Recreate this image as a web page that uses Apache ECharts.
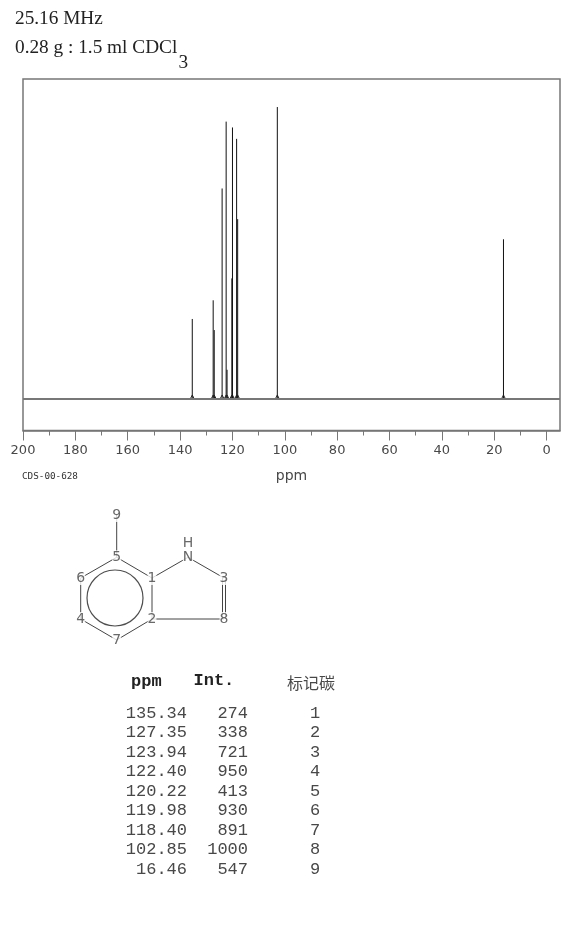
<!DOCTYPE html>
<html><head><meta charset="utf-8">
<style>html,body{margin:0;padding:0;background:#fff}#c{width:570px;height:928px}</style>
<script src="https://cdn.jsdelivr.net/npm/echarts@6/dist/echarts.min.js"></script>
</head><body><div id="c"></div>
<script>
// Table of assigned peaks
var tablePpm = ['135.34','127.35','123.94','122.40','120.22','119.98','118.40','102.85','16.46'];
var tableInt = [274,338,721,950,413,930,891,1000,547];
var tableCarbon = [1,2,3,4,5,6,7,8,9];
// Additional unlisted sticks seen in the spectrum
var extraPpm = [126.95,122.05,118.0];
var extraInt = [236,100,616];
// Axis ticks
var majorTicks = [0,20,40,60,80,100,120,140,160,180,200];
var minorTicks = [10,30,50,70,90,110,130,150,170,190];
// Molecule (atom label, x, y in structure units) and bonds
var atomLabels = ['9','5','6','4','7','2','1','N','H','3','8'];
var atomX = [56.7,56.7,20.7,20.7,56.7,92,92,128,128,164,164];
var atomY = [15,57.3,78,119,140,119,78,57.3,43,78,119];
var bondList = [['9','5',1],['5','6',1],['6','4',1],['4','7',1],['7','2',1],['2','1',1],['1','5',1],['1','N',1],['N','3',1],['3','8',2],['8','2',1]];
var ringCentre = [55,98];

var inkGrey = '#777777';
var textGrey = '#484848';
var chart = echarts.init(document.getElementById('c'), null, {renderer:'canvas'});

var peaks = tablePpm.map(function(p,i){return [parseFloat(p),tableInt[i]];})
  .concat(extraPpm.map(function(p,i){return [p,extraInt[i]];}));
var atoms = atomLabels.map(function(l,i){return {value:[atomX[i],atomY[i]],name:l};});
var bonds = bondList.map(function(b){
  var a=atomLabels.indexOf(b[0]), c=atomLabels.indexOf(b[1]);
  return [atomX[a],atomY[a],atomX[c],atomY[c],b[2]];
});

var serif = '19.3px "Liberation Serif"';
var mono = '17px "Liberation Mono"';
var gfx = [
 {type:'text',left:15,top:9,style:{text:'25.16 MHz',font:serif,fill:'#222'}},
 {type:'text',left:15,top:38,style:{text:'0.28 g : 1.5 ml CDCl',font:serif,fill:'#222'}},
 {type:'text',left:178.5,top:53,style:{text:'3',font:serif,fill:'#222'}},
 {type:'text',left:22,top:472,style:{text:'CDS-00-628',font:'9.3px "DejaVu Sans Mono"',fill:'#333'}},
 {type:'text',left:131,top:673,style:{text:'ppm',font:'bold 17px "Liberation Mono"',fill:'#222'}},
 {type:'text',left:193.5,top:672,style:{text:'Int.',font:'bold 17px "Liberation Mono"',fill:'#222'}},
 {type:'text',left:287,top:675,style:{text:'标记碳',font:'16px "Noto Sans CJK SC"',fill:'#484848'}}
];
var rowTop = 704.5, rowStep = 19.56;
tablePpm.forEach(function(p,i){
  var y = rowTop+i*rowStep;
  gfx.push({type:'text',x:187,y:y,style:{text:p,align:'right',font:mono,fill:'#484848'}});
  gfx.push({type:'text',x:248,y:y,style:{text:String(tableInt[i]),align:'right',font:mono,fill:'#484848'}});
  gfx.push({type:'text',x:315,y:y,style:{text:String(tableCarbon[i]),align:'center',font:mono,fill:'#484848'}});
});

chart.setOption({
  animation:false,
  backgroundColor:'#fff',
  grid:[
    {left:23,top:79,width:537,height:351.5,show:true,borderColor:inkGrey,borderWidth:1.5,backgroundColor:'#fff'},
    {left:60,top:500,width:190,height:160,show:false}
  ],
  xAxis:[
    {type:'value',gridIndex:0,inverse:true,min:-5.13,max:200,position:'bottom',splitLine:{show:false},
     name:'ppm',nameLocation:'middle',nameGap:39,nameTextStyle:{fontFamily:'DejaVu Sans',fontSize:14,color:textGrey},
     axisLine:{show:true,onZero:false,lineStyle:{color:inkGrey,width:1.5}},
     axisTick:{show:true,length:10,customValues:majorTicks,lineStyle:{color:inkGrey,width:1}},
     axisLabel:{show:true,customValues:majorTicks,margin:14,fontFamily:'DejaVu Sans',fontSize:13,color:textGrey,hideOverlap:false,showMinLabel:true,showMaxLabel:true}},
    {type:'value',gridIndex:0,inverse:true,min:-5.13,max:200,position:'bottom',splitLine:{show:false},
     axisLine:{show:false,onZero:false},
     axisTick:{show:true,length:5,customValues:minorTicks,lineStyle:{color:inkGrey,width:1}},
     axisLabel:{show:false}},
    {type:'value',gridIndex:1,min:0,max:190,show:false},
  ],
  yAxis:[
    {type:'value',gridIndex:0,min:-108,max:1096,show:false,splitLine:{show:false}},
    {type:'value',gridIndex:1,min:0,max:160,inverse:true,show:false,splitLine:{show:false}}
  ],
  series:[
    {type:'custom',xAxisIndex:0,yAxisIndex:0,coordinateSystem:'cartesian2d',data:peaks,encode:{x:0,y:1},silent:true,z:3,
     renderItem:function(params,api){
       var top=api.coord([api.value(0),api.value(1)]);
       var base=api.coord([api.value(0),0]);
       return {type:'group',children:[
         {type:'line',shape:{x1:top[0],y1:top[1],x2:base[0],y2:base[1]},style:{stroke:'#111',lineWidth:1}},
         {type:'polyline',shape:{points:[[base[0]-2,base[1]],[base[0]-1,base[1]-2],[base[0],base[1]-4],[base[0]+1,base[1]-2],[base[0]+2,base[1]]]},style:{stroke:'#222',fill:null,lineWidth:1}}
       ]};
     },
     markLine:{silent:true,symbol:'none',label:{show:false},lineStyle:{color:inkGrey,width:2,type:'solid'},data:[{yAxis:0}]}
    },
    {type:'custom',xAxisIndex:2,yAxisIndex:1,coordinateSystem:'cartesian2d',data:bonds,silent:true,z:2,
     encode:{x:[0,2],y:[1,3]},
     renderItem:function(params,api){
       var a=api.coord([api.value(0),api.value(1)]), b=api.coord([api.value(2),api.value(3)]);
       var st={stroke:'#444',lineWidth:1};
       if(api.value(4)===2){
         return {type:'group',children:[
           {type:'line',shape:{x1:a[0]-1.5,y1:a[1],x2:b[0]-1.5,y2:b[1]},style:st},
           {type:'line',shape:{x1:a[0]+1.5,y1:a[1],x2:b[0]+1.5,y2:b[1]},style:st}
         ]};
       }
       return {type:'line',shape:{x1:a[0],y1:a[1],x2:b[0],y2:b[1]},style:st};
     }
    },
    {type:'scatter',xAxisIndex:2,yAxisIndex:1,data:[ringCentre],symbol:'circle',symbolSize:56,silent:true,z:2,
     itemStyle:{color:'transparent',borderColor:'#222',borderWidth:1.2}},
    {type:'scatter',xAxisIndex:2,yAxisIndex:1,data:atoms,symbolSize:1,silent:true,z:4,
     itemStyle:{color:'transparent'},
     label:{show:true,position:'inside',formatter:'{b}',fontFamily:'DejaVu Sans',fontSize:14,color:'#444',backgroundColor:'#fff',padding:0}}
  ],
  graphic:gfx
});
</script></body></html>
